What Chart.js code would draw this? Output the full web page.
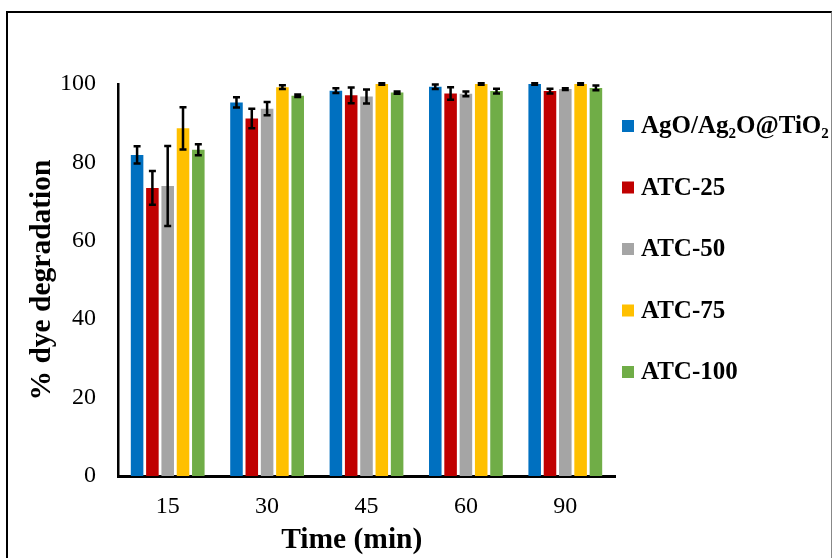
<!DOCTYPE html>
<html>
<head>
<meta charset="utf-8">
<script src="https://cdn.jsdelivr.net/npm/chart.js@4.4.1/dist/chart.umd.min.js"></script>
<style>
  html, body { margin: 0; padding: 0; background: #fff; }
  #wrap { position: relative; width: 835px; height: 558px; overflow: hidden; }
  #frame { position: absolute; left: 6px; top: 11px; width: 826px; height: 600px;
           border-left: 2px solid #000; border-top: 2px solid #000; border-right: 1px solid #888;
           box-sizing: border-box; }
  canvas { position: absolute; left: 0; top: 0; }
</style>
</head>
<body>
<div id="wrap">
  <div id="frame"></div>
  <canvas id="c" width="835" height="558"></canvas>
</div>
<script>
// Irradiation times (min)
const times = ['15', '30', '45', '60', '90'];
const yTicks = [0, 20, 40, 60, 80, 100];

// Mean dye degradation (%) per catalyst
const agoTio2 = [81.9, 95.3, 98.3, 99.3, 100];
const atc25   = [73.5, 91.2, 97.1, 97.6, 98.2];
const atc50   = [74.0, 93.7, 96.8, 97.5, 98.7];
const atc75   = [88.7, 99.2, 100, 100, 100];
const atc100  = [83.2, 97.0, 97.8, 98.2, 99.0];

// Standard deviations (±)
const errAgoTio2 = [2.2, 1.3, 0.6, 0.6, 0.2];
const errAtc25   = [4.3, 2.5, 2.0, 1.6, 0.6];
const errAtc50   = [10.2, 1.7, 1.8, 0.6, 0.2];
const errAtc75   = [5.4, 0.5, 0.2, 0.2, 0.2];
const errAtc100  = [1.4, 0.3, 0.3, 0.6, 0.6];

const seriesNames = ['AgO/Ag\u2082O@TiO\u2082', 'ATC-25', 'ATC-50', 'ATC-75', 'ATC-100'];
const seriesColors = ['#0070C0', '#C00000', '#A5A5A5', '#FFC000', '#70AD47'];

const values = [agoTio2, atc25, atc50, atc75, atc100];
const errors = [errAgoTio2, errAtc25, errAtc50, errAtc75, errAtc100];

const SERIF = '"Liberation Serif", "Times New Roman", serif';

// Error bars: vertical whiskers with caps, centred on each bar
const errorBars = {
  id: 'errorBars',
  afterDatasetsDraw(chart) {
    const ctx = chart.ctx;
    const y = chart.scales.y;
    ctx.save();
    ctx.strokeStyle = '#000';
    ctx.lineWidth = 2.5;
    chart.data.datasets.forEach((ds, di) => {
      const meta = chart.getDatasetMeta(di);
      meta.data.forEach((bar, i) => {
        const v = ds.data[i], e = ds.errors[i];
        const yTop = y.getPixelForValue(v + e);
        const yBot = y.getPixelForValue(v - e);
        const x = bar.x, cap = 3.5;
        ctx.beginPath();
        ctx.moveTo(x, yTop); ctx.lineTo(x, yBot);
        ctx.moveTo(x - cap, yTop); ctx.lineTo(x + cap, yTop);
        ctx.moveTo(x - cap, yBot); ctx.lineTo(x + cap, yBot);
        ctx.stroke();
      });
    });
    ctx.restore();
  }
};

// Legend column to the right of the plot
const sideLegend = {
  id: 'sideLegend',
  afterDraw(chart) {
    const ctx = chart.ctx;
    const x0 = 622, y0 = 126, step = 61.5, box = 12;
    ctx.save();
    ctx.font = 'bold 25px ' + SERIF;
    ctx.textBaseline = 'middle';
    ctx.textAlign = 'left';
    chart.data.datasets.forEach((ds, i) => {
      const cy = y0 + i * step;
      ctx.fillStyle = ds.backgroundColor;
      ctx.fillRect(x0, cy - box / 2, box, box);
      ctx.fillStyle = '#000';
      ctx.fillText(ds.label, x0 + 19, cy + 1);
    });
    ctx.restore();
  }
};

new Chart(document.getElementById('c'), {
  type: 'bar',
  data: {
    labels: times,
    datasets: values.map((v, i) => ({
      label: seriesNames[i],
      data: v,
      errors: errors[i],
      backgroundColor: seriesColors[i],
      borderWidth: 0,
      categoryPercentage: 0.77,
      barPercentage: 0.82
    }))
  },
  options: {
    responsive: false,
    animation: false,
    devicePixelRatio: 1,
    layout: { padding: { left: 10, top: 84, right: 220, bottom: 0 } },
    plugins: { legend: { display: false }, tooltip: { enabled: false } },
    scales: {
      x: {
        grid: { display: false, drawTicks: false },
        border: { display: true, color: '#000', width: 3 },
        ticks: { color: '#000', padding: 16, font: { family: SERIF, size: 24 } },
        title: { display: true, text: 'Time (min)\u2003', color: '#000', padding: { top: 0, bottom: 0 },
                 font: { family: SERIF, size: 29.5, weight: 'bold' } },
        afterFit(s) { s.height = 82; }
      },
      y: {
        min: 0, max: 100,
        afterBuildTicks(s) { s.ticks = yTicks.map(v => ({ value: v })); },
        grid: { display: false, drawTicks: false },
        border: { display: true, color: '#000', width: 2.5 },
        ticks: { color: '#000', padding: 22, font: { family: SERIF, size: 24 } },
        title: { display: true, text: '% dye degradation', color: '#000', padding: { top: 15, bottom: 0 },
                 font: { family: SERIF, size: 29.5, weight: 'bold' } },
        afterFit(s) { s.width = 108; }
      }
    }
  },
  plugins: [errorBars, sideLegend]
});
</script>
</body>
</html>
